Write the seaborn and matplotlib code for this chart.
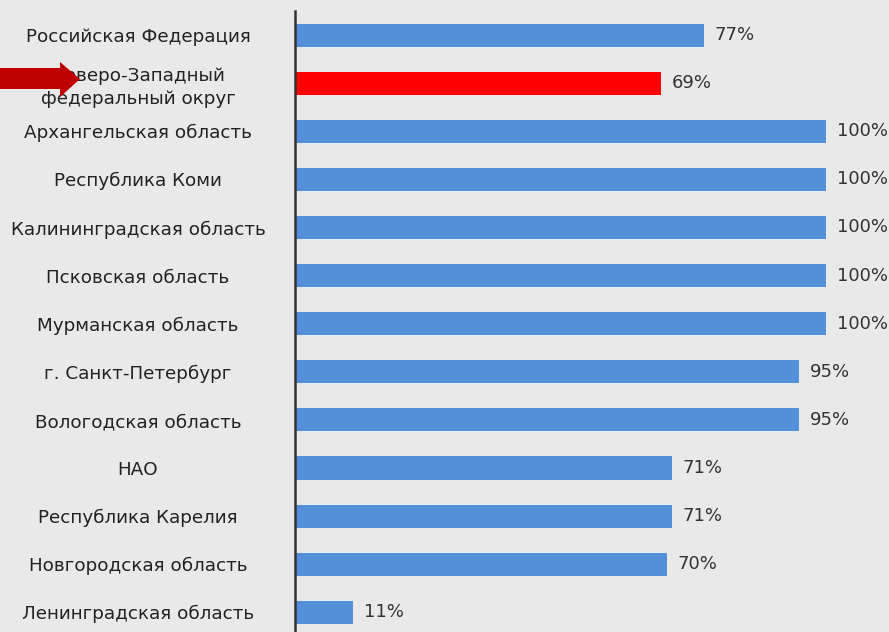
import matplotlib

matplotlib.use("Agg")

import matplotlib.pyplot as plt
import matplotlib.patches as mpatches
import seaborn as sns
import pandas as pd

regions = [
    "Российская Федерация",
    "Северо-Западный\nфедеральный округ",
    "Архангельская область",
    "Республика Коми",
    "Калининградская область",
    "Псковская область",
    "Мурманская область",
    "г. Санкт-Петербург",
    "Вологодская область",
    "НАО",
    "Республика Карелия",
    "Новгородская область",
    "Ленинградская область",
]
values = [77, 69, 100, 100, 100, 100, 100, 95, 95, 71, 71, 70, 11]
highlight = "Северо-Западный\nфедеральный округ"

BG = "#e9e9e9"
BLUE = "#5490d9"
RED = "#ff0000"

df = pd.DataFrame({"region": regions, "value": values})
palette = {r: (RED if r == highlight else BLUE) for r in regions}

sns.set_style("white")
plt.rcParams["font.family"] = ["DejaVu Sans"]

fig = plt.figure(figsize=(8.89, 6.32), dpi=100)
fig.patch.set_facecolor(BG)
ax = fig.add_axes([295 / 889, 0, (826 - 295) / 889, (632 - 11) / 632])
ax.set_facecolor(BG)

sns.barplot(data=df, x="value", y="region", hue="region", palette=palette,
            order=regions, width=0.48, legend=False, ax=ax, saturation=1,
            linewidth=0)

ax.set_xlim(0, 100)
ax.set_ylim(12.41, -0.5)
ax.set_xlabel("")
ax.set_ylabel("")
ax.set_xticks([])

for s in ["top", "right", "bottom"]:
    ax.spines[s].set_visible(False)
ax.spines["left"].set_color("#333333")
ax.spines["left"].set_linewidth(1.8)

ax.tick_params(axis="y", length=0, pad=113, labelsize=13.2, labelcolor="#222222")
for lbl in ax.get_yticklabels():
    lbl.set_horizontalalignment("center")
    lbl.set_linespacing(1.35)

for i, v in enumerate(values):
    ax.text(v + 2.0, i, f"{v}%", va="center", ha="left", fontsize=13,
            color="#333333", clip_on=False)

# arrow pointing at the highlighted region
W, H = 889, 632
pts = [(0, 68), (60, 68), (60, 62), (80, 79), (60, 97), (60, 89), (0, 89)]
arrow = mpatches.Polygon([(x / W, 1 - y / H) for x, y in pts], closed=True,
                         transform=fig.transFigure, facecolor="#c00000",
                         edgecolor="none", zorder=10)
fig.patches.append(arrow)

fig.savefig("out.png", dpi=100, facecolor=BG)
